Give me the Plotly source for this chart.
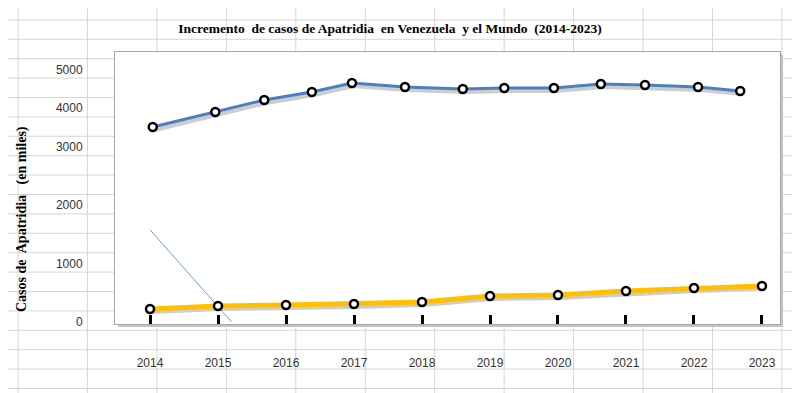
import plotly.graph_objects as go

# ---------------- data ----------------
years = [2014, 2015, 2016, 2017, 2018, 2019, 2020, 2021, 2022, 2023]
year_labels = [str(y) for y in years]

mundo_x = [2014.04, 2014.96, 2015.68, 2016.38, 2016.97, 2017.75, 2018.60,
           2019.21, 2019.94, 2020.63, 2021.28, 2022.06, 2022.68]
mundo_y = [3362, 3621, 3828, 3966, 4121, 4052, 4017, 4034, 4034, 4103, 4086, 4052, 3983]

venezuela_x = years
venezuela_y = [224, 276, 293, 310, 345, 448, 466, 534, 586, 621]

trend_x = [2014.0, 2015.2]
trend_y = [1590, 0]

ytick_labels = ["0", "1000", "2000", "3000", "4000", "5000"]
ytick_vals = [0, 1000, 2017, 3017, 3690, 4345]

title_text = "Incremento\u00a0 de casos de Apatridia\u00a0 en Venezuela\u00a0 y el Mundo\u00a0 (2014-2023)"
ytitle_text = "Casos de\u00a0 Apatridia\u00a0\u00a0 (en miles)"

# ---------------- geometry ----------------
# the page body has an 8px margin, so figure pixel = screen pixel - 8
OFF = 8
FW, FH = 800 - OFF, 393 - OFF
L, R, T, B = 115 - OFF, 780 - OFF, 52 - OFF, 324 - OFF
PW, PH = R - L, B - T
XR = [2013.485, 2023.265]
YR = [-34, 4655]


def px(x):
    return (x - OFF - L) / PW


def py(y):
    return (B - (y - OFF)) / PH


# shadow offsets (in axis units) for the soft drop shadow under lines
dx = 2 * (XR[1] - XR[0]) / PW
dy = 3 * (YR[1] - YR[0]) / PH

fig = go.Figure()

# shadows (on hidden primary axes, shifted)
fig.add_trace(go.Scatter(x=mundo_x, y=mundo_y, mode="lines",
                         line=dict(color="rgba(90,90,90,0.3)", width=4),
                         xaxis="x", yaxis="y", hoverinfo="skip", showlegend=False))
fig.add_trace(go.Scatter(x=venezuela_x, y=venezuela_y, mode="lines",
                         line=dict(color="rgba(90,90,90,0.3)", width=4),
                         xaxis="x", yaxis="y", hoverinfo="skip", showlegend=False))

# main series on visible axes
fig.add_trace(go.Scatter(x=trend_x, y=trend_y, mode="lines",
                         line=dict(color="#6f9fd8", width=1),
                         xaxis="x2", yaxis="y2", showlegend=False))
fig.add_trace(go.Scatter(x=mundo_x, y=mundo_y, mode="lines+markers", name="Mundo",
                         line=dict(color="#4a7fc1", width=3),
                         marker=dict(symbol="circle", size=8, color="white",
                                     line=dict(color="black", width=2.5)),
                         xaxis="x2", yaxis="y2", showlegend=False))
fig.add_trace(go.Scatter(x=venezuela_x, y=venezuela_y, mode="lines+markers", name="Venezuela",
                         line=dict(color="#ffc000", width=5),
                         marker=dict(symbol="circle", size=8, color="white",
                                     line=dict(color="black", width=2.5)),
                         xaxis="x2", yaxis="y2", showlegend=False))

# spreadsheet grid background
shapes = []
grid_col = "#d6d6d6"
for k in range(12):
    x = 18 + 69.45 * k
    shapes.append(dict(type="line", xref="paper", yref="paper", layer="below",
                       x0=px(x), x1=px(x), y0=py(0), y1=py(400),
                       line=dict(color=grid_col, width=1)))
for k in range(21):
    y = 19.4 * k + 0.5
    shapes.append(dict(type="line", xref="paper", yref="paper", layer="below",
                       x0=px(0), x1=px(800), y0=py(y), y1=py(y),
                       line=dict(color=grid_col, width=1)))
# chart box shadow + white box
shapes.append(dict(type="rect", xref="paper", yref="paper", layer="below",
                   x0=px(115 + 3), x1=px(780 + 3), y0=py(324 + 3), y1=py(52 + 3),
                   fillcolor="#c4c4c4", line=dict(width=0)))
shapes.append(dict(type="rect", xref="paper", yref="paper", layer="below",
                   x0=0, x1=1, y0=0, y1=1,
                   fillcolor="white", line=dict(width=0)))

tick_font = dict(family="Liberation Sans", size=12, color="#333333")

fig.update_layout(
    width=FW, height=FH,
    margin=dict(l=L, r=FW - R, t=T, b=FH - B, pad=0),
    paper_bgcolor="white", plot_bgcolor="white",
    showlegend=False,
    title=dict(text=title_text, x=(390 - OFF) / FW, xanchor="center", xref="container",
               y=1 - (28 - OFF) / FH, yanchor="middle", yref="container",
               font=dict(family="Liberation Serif", size=13.5, color="black", weight="bold")),
    xaxis=dict(range=[XR[0] - dx, XR[1] - dx], visible=False, fixedrange=True),
    yaxis=dict(range=[YR[0] + dy, YR[1] + dy], visible=False, fixedrange=True),
    xaxis2=dict(range=XR, overlaying="x", side="bottom", anchor="y2",
                tickmode="array", tickvals=years, ticktext=year_labels,
                ticks="inside", ticklen=9, tickwidth=3, tickcolor="black",
                showline=True, linecolor="#a6a6a6", linewidth=1, mirror=True,
                showgrid=False, zeroline=False, tickfont=tick_font,
                ticklabelstandoff=28),
    yaxis2=dict(range=YR, overlaying="y", side="left", anchor="x2",
                tickmode="array", tickvals=ytick_vals, ticktext=ytick_labels,
                ticks="", showline=True, linecolor="#a6a6a6", linewidth=1, mirror=True,
                showgrid=False, zeroline=False, tickfont=tick_font,
                ticklabelstandoff=29),
    shapes=shapes,
    annotations=[dict(text=ytitle_text, xref="paper", yref="paper",
                      x=px(22), y=py(219), xanchor="center", yanchor="middle",
                      textangle=-90, showarrow=False,
                      font=dict(family="Liberation Serif", size=14, color="black", weight="bold"))],
)

fig.write_html("out.html")
